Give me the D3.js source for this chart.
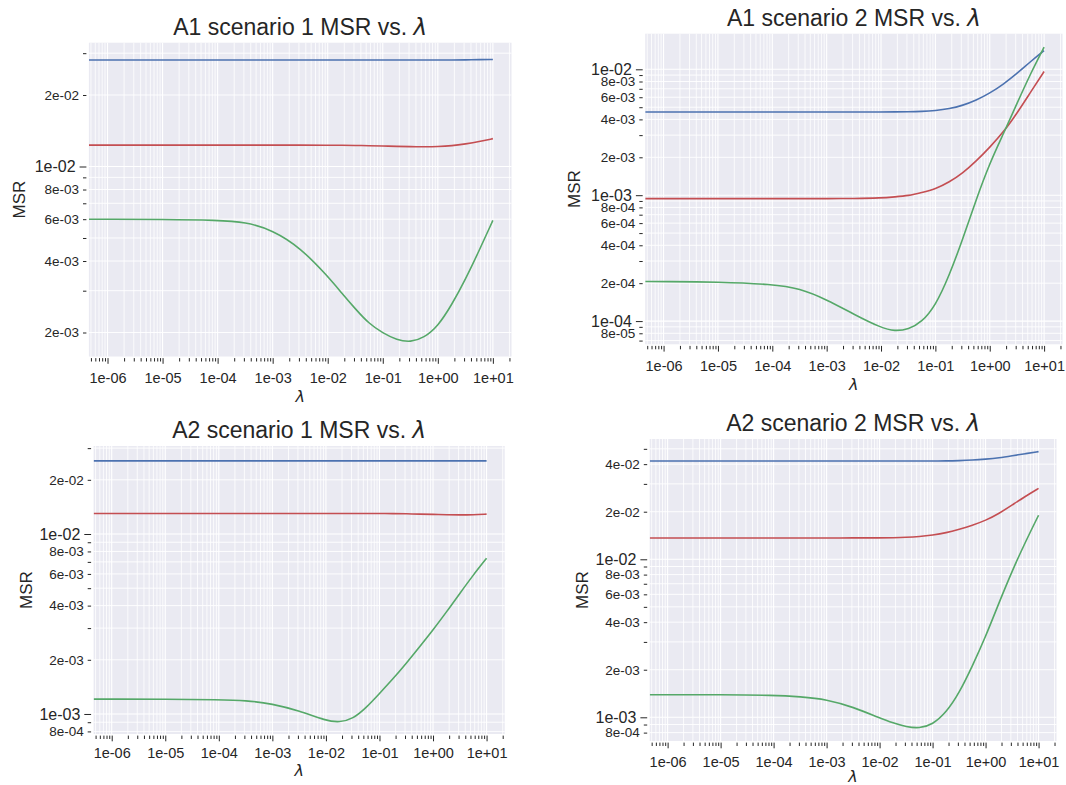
<!DOCTYPE html>
<html>
<head>
<meta charset="utf-8">
<script src="https://cdn.jsdelivr.net/npm/d3@7"></script>
<style>
  body { margin: 0; background: #fff; }
  svg { display: block; }
  text { font-family: "Liberation Sans", Arial, sans-serif; fill: #262626; }
</style>
</head>
<body>
<svg id="chart" width="1066" height="785"></svg>
<script>
// lambda sample points (x values)
const lambdas = [4.6e-7, 1e-6, 1e-5, 1e-4, 3.2e-4, 1e-3, 3.2e-3, 1e-2, 1.8e-2, 3.2e-2, 5.6e-2,
                 0.1, 0.18, 0.32, 0.56, 1, 1.8, 3.2, 5.6, 10];

// A1 scenario 1
const a1s1Blue  = [0.0281, 0.0281, 0.0281, 0.0281, 0.0281, 0.0281, 0.0281, 0.0281, 0.0281, 0.0281,
                   0.0281, 0.0281, 0.0281, 0.0281, 0.0281, 0.0281, 0.0281, 0.0281, 0.0282, 0.0282];
const a1s1Red   = [0.0123, 0.0123, 0.0123, 0.0123, 0.0123, 0.0123, 0.0123, 0.0123, 0.01228, 0.01226,
                   0.01224, 0.0122, 0.01216, 0.01212, 0.01211, 0.01212, 0.01222, 0.01245, 0.01272, 0.0131];
const a1s1Green = [0.0060, 0.0060, 0.00599, 0.00594, 0.00584, 0.0054, 0.00455, 0.00345, 0.00293, 0.00251,
                   0.00218, 0.00199, 0.00186, 0.00182, 0.0019, 0.00212, 0.00262, 0.00336, 0.00441, 0.00593];

// A1 scenario 2
const a1s2Blue  = [0.00458, 0.00458, 0.00458, 0.00458, 0.00458, 0.00458, 0.00458, 0.00458, 0.00459, 0.0046,
                   0.00463, 0.0047, 0.00485, 0.00517, 0.00567, 0.00645, 0.00764, 0.0093, 0.0115, 0.0141];
const a1s2Red   = [0.00094, 0.00094, 0.00094, 0.00094, 0.00094, 0.00094, 0.00094, 0.00095, 0.00097, 0.00099,
                   0.00105, 0.00112, 0.00127, 0.0015, 0.00186, 0.0024, 0.00318, 0.0045, 0.00655, 0.0096];
const a1s2Green = [0.000206, 0.000206, 0.000205, 0.000196, 0.000182, 0.000148, 0.000113, 0.0000885, 0.000083, 0.000086,
                   0.000098, 0.000132, 0.00023, 0.00045, 0.00092, 0.0018, 0.0031, 0.0054, 0.0092, 0.015];

// A2 scenario 1
const a2s1Blue  = [0.0255, 0.0255, 0.0255, 0.0255, 0.0255, 0.0255, 0.0255, 0.0255, 0.0255, 0.0255,
                   0.0255, 0.0255, 0.0255, 0.0255, 0.0255, 0.0255, 0.0255, 0.0255, 0.0255, 0.0255];
const a2s1Red   = [0.0130, 0.0130, 0.0130, 0.0130, 0.0130, 0.0130, 0.0130, 0.0130, 0.0130, 0.0130,
                   0.0130, 0.0130, 0.01298, 0.01295, 0.0129, 0.01285, 0.01278, 0.01276, 0.01278, 0.0129];
const a2s1Green = [0.00121, 0.00121, 0.00121, 0.0012, 0.00119, 0.00114, 0.00104, 0.000917, 0.000898, 0.00094,
                   0.00108, 0.0013, 0.00157, 0.00192, 0.00236, 0.00293, 0.0037, 0.00470, 0.00590, 0.00733];

// A2 scenario 2
const a2s2Blue  = [0.0419, 0.0419, 0.0419, 0.0419, 0.0419, 0.0419, 0.0419, 0.0419, 0.0419, 0.0419,
                   0.0419, 0.0419, 0.0419, 0.0421, 0.0424, 0.0430, 0.0438, 0.0452, 0.0466, 0.0480];
const a2s2Red   = [0.01365, 0.01365, 0.01365, 0.01365, 0.01365, 0.01365, 0.01365, 0.01366, 0.01369, 0.01376,
                   0.01392, 0.01423, 0.0147, 0.0155, 0.0164, 0.0176, 0.0195, 0.0221, 0.0250, 0.0281];
const a2s2Green = [0.00139, 0.00139, 0.00139, 0.00138, 0.00135, 0.0013, 0.00116, 0.00099, 0.00092, 0.00087,
                   0.00085, 0.0009, 0.00107, 0.00143, 0.0021, 0.00323, 0.00533, 0.0085, 0.0128, 0.019];

const titles = ["A1 scenario 1 MSR vs. ", "A1 scenario 2 MSR vs. ", "A2 scenario 1 MSR vs. ", "A2 scenario 2 MSR vs. "];
const colors = ["#4C72B0", "#C44E52", "#55A868"];
const xLim = [4.59e-7, 21.8];

// layout of each panel (plot box + y range as it shows)
const panels = [
  { title: titles[0], series: [a1s1Blue, a1s1Red, a1s1Green], yLim: [0.001585, 0.03321],
    box: [88.9, 42.7, 511.5, 356.5], tickDy: 27, labDy: 45.5, ylabDx: 70 },
  { title: titles[1], series: [a1s2Blue, a1s2Red, a1s2Green], yLim: [6.54e-5, 0.01918],
    box: [645.2, 33.7, 1062.5, 344.3], tickDy: 26.4, labDy: 45.5, ylabDx: 71 },
  { title: titles[2], series: [a2s1Blue, a2s1Red, a2s1Green], yLim: [7.74e-4, 0.03083],
    box: [93.6, 446, 504.7, 734], tickDy: 24.5, labDy: 42, ylabDx: 68 },
  { title: titles[3], series: [a2s2Blue, a2s2Red, a2s2Green], yLim: [7.08e-4, 0.0577],
    box: [649.7, 439, 1056.5, 741], tickDy: 25.7, labDy: 40.5, ylabDx: 68 }
];

function sci(v) {
  const e = Math.floor(Math.log10(v) + 1e-9);
  const m = Math.round(v / Math.pow(10, e));
  return m + "e" + (e < 0 ? "-" : "+") + String(Math.abs(e)).padStart(2, "0");
}

function logTicks(lo, hi) {
  const out = [];
  for (let e = Math.floor(Math.log10(lo)); e <= Math.ceil(Math.log10(hi)); e++) {
    for (let m = 1; m <= 9; m++) {
      const v = m * Math.pow(10, e);
      if (v >= lo * 0.9999 && v <= hi * 1.0001) out.push({ v: v, m: m });
    }
  }
  return out;
}

const svg = d3.select("#chart");

panels.forEach(function(p, pi) {
  const [left, top, right, bottom] = p.box;
  const x = d3.scaleLog().domain(xLim).range([left, right]);
  const y = d3.scaleLog().domain(p.yLim).range([bottom, top]);

  const g = svg.append("g");

  g.append("rect")
    .attr("x", left).attr("y", top)
    .attr("width", right - left).attr("height", bottom - top)
    .attr("fill", "#EAEAF2");

  const xt = logTicks(xLim[0], xLim[1]);
  const yt = logTicks(p.yLim[0], p.yLim[1]);

  // grid, minor then major
  g.selectAll(".vgrid").data(xt).enter().append("line")
    .attr("x1", d => x(d.v)).attr("x2", d => x(d.v))
    .attr("y1", top).attr("y2", bottom)
    .attr("stroke", "#fff").attr("stroke-width", d => d.m == 1 ? 1.1 : 0.8);
  g.selectAll(".hgrid").data(yt).enter().append("line")
    .attr("y1", d => y(d.v)).attr("y2", d => y(d.v))
    .attr("x1", left).attr("x2", right)
    .attr("stroke", "#fff").attr("stroke-width", d => d.m == 1 ? 1.1 : 0.9);

  // lines
  const clipId = "clip" + pi;
  g.append("clipPath").attr("id", clipId).append("rect")
    .attr("x", left).attr("y", top).attr("width", right - left).attr("height", bottom - top);

  const line = d3.line()
    .x(d => x(d[0]))
    .y(d => y(d[1]))
    .curve(d3.curveBasis);

  p.series.forEach(function(s, si) {
    g.append("path")
      .datum(lambdas.map((l, i) => [l, s[i]]))
      .attr("clip-path", "url(#" + clipId + ")")
      .attr("fill", "none")
      .attr("stroke", colors[si])
      .attr("stroke-width", 1.6)
      .attr("d", line);
  });

  // x axis
  const xMaj = xt.filter(d => d.m == 1).map(d => d.v);
  const xMin = xt.filter(d => d.m != 1).map(d => d.v);
  const xa = g.append("g").attr("transform", "translate(0," + (bottom + 1.6) + ")");
  xa.append("g").call(d3.axisBottom(x).tickValues(xMin).tickSize(3.4).tickFormat(""));
  const xm = xa.append("g").call(d3.axisBottom(x).tickValues(xMaj).tickSize(5.7).tickFormat(sci));
  xa.selectAll(".domain").remove();
  xa.selectAll("line").attr("stroke", "#262626");
  xm.selectAll("text")
    .attr("y", p.tickDy - 1.6).attr("dy", 0)
    .style("font-family", "'Liberation Sans', Arial, sans-serif")
    .style("font-size", "14.5px").attr("fill", "#262626");

  // y axis
  const yMaj = yt.filter(d => d.m == 1).map(d => d.v);
  const yMin = yt.filter(d => d.m != 1).map(d => d.v);
  const ya = g.append("g").attr("transform", "translate(" + (left - 2.5) + ",0)");
  const yMinG = ya.append("g").call(d3.axisLeft(y).tickValues(yMin).tickSize(3.4).tickPadding(4)
    .tickFormat(function(v) {
      const m = Math.round(v / Math.pow(10, Math.floor(Math.log10(v) + 1e-9)));
      return (m % 2 == 0) ? sci(v) : "";
    }));
  const yMajG = ya.append("g").call(d3.axisLeft(y).tickValues(yMaj).tickSize(6.8).tickPadding(4).tickFormat(sci));
  ya.selectAll(".domain").remove();
  ya.selectAll("line").attr("stroke", "#262626");
  yMinG.selectAll("text")
    .style("font-family", "'Liberation Sans', Arial, sans-serif")
    .style("font-size", "13.5px").attr("fill", "#262626");
  yMajG.selectAll("text")
    .style("font-family", "'Liberation Sans', Arial, sans-serif")
    .style("font-size", "16px").attr("fill", "#262626");

  // title
  const cx = (left + right) / 2;
  const t = g.append("text")
    .attr("x", cx).attr("y", top - 8)
    .attr("text-anchor", "middle")
    .style("font-size", "23px")
    .text(p.title);
  t.append("tspan")
    .style("font-family", "'DejaVu Sans', sans-serif")
    .style("font-style", "italic")
    .text("λ");

  // axis labels
  g.append("text")
    .attr("x", cx).attr("y", bottom + p.labDy)
    .attr("text-anchor", "middle")
    .style("font-family", "'DejaVu Sans', sans-serif")
    .style("font-style", "italic")
    .style("font-size", "16px")
    .text("λ");

  g.append("text")
    .attr("transform", "translate(" + (left - p.ylabDx) + "," + ((top + bottom) / 2) + ") rotate(-90)")
    .attr("text-anchor", "middle")
    .attr("dy", "0.35em")
    .style("font-size", "17px")
    .text("MSR");
});
</script>
</body>
</html>
